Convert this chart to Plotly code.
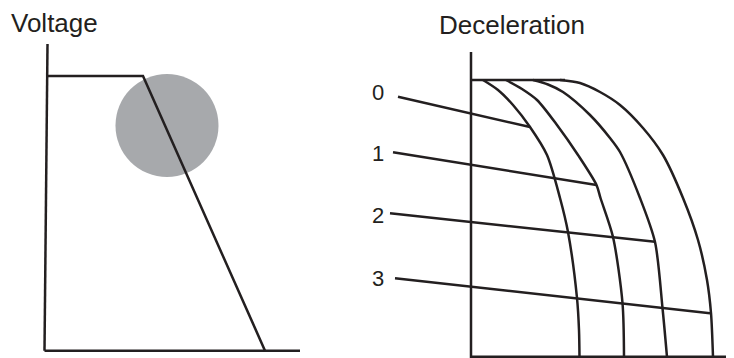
import plotly.graph_objects as go

# Voltage panel (left)
volt_axis_x = [47.5, 44.5, 44.5, 300]
volt_axis_y = [44, 350.7, 350.7, 350.7]
volt_curve_x = [47.5, 143, 265]
volt_curve_y = [76, 76, 350.7]
spot_x = [167]
spot_y = [125.5]

# Deceleration panel (right)
dec_axis_x = [471, 471, 734]
dec_axis_y = [52, 356.7, 356.7]
top_x = [471, 565]
top_y = [80, 80]

curve_a_x = [483, 498, 513, 530, 547, 560, 568, 577, 579, 579.5]
curve_a_y = [80, 90, 105, 127, 155, 198, 232, 298, 330, 357]
curve_b_x = [506, 522, 537, 557, 578, 596.5, 600.5, 613, 622.5, 624]
curve_b_y = [80, 89, 100, 125, 155, 185, 198, 237, 303, 357]
curve_c_x = [533, 548, 563, 590, 610, 620, 640, 655, 662.5, 667]
curve_c_y = [80, 84.5, 92, 115, 138, 152, 198, 242, 308, 357]
curve_d_x = [560, 580, 600, 620, 643, 663, 683, 698, 707, 711, 713]
curve_d_y = [80, 83, 92, 105, 128, 155, 198, 240, 280, 313, 357]

labels = ["0", "1", "2", "3"]
label_x = [378, 378, 378, 378]
label_y = [94, 155, 217, 280]
pointer_x0 = [398, 393, 390, 395]
pointer_y0 = [96.7, 152.3, 213.3, 278.3]
pointer_x1 = [530, 596.5, 655, 710]
pointer_y1 = [127, 185, 241.7, 313.3]

ink = "#231f20"
lw = 2.5
font = "Liberation Sans, Arial"

fig = go.Figure()

# grey spot behind the voltage line
fig.add_trace(go.Scatter(x=spot_x, y=spot_y, mode="markers",
                         marker=dict(size=103, color="#a7a9ac", line=dict(width=0))))

fig.add_trace(go.Scatter(x=volt_axis_x[:2], y=volt_axis_y[:2], mode="lines", line=dict(color=ink, width=lw)))
fig.add_trace(go.Scatter(x=volt_axis_x[2:], y=volt_axis_y[2:], mode="lines", line=dict(color=ink, width=lw)))
fig.add_trace(go.Scatter(x=volt_curve_x, y=volt_curve_y, mode="lines", line=dict(color=ink, width=lw)))

fig.add_trace(go.Scatter(x=dec_axis_x, y=dec_axis_y, mode="lines", line=dict(color=ink, width=lw)))
fig.add_trace(go.Scatter(x=top_x, y=top_y, mode="lines", line=dict(color=ink, width=lw)))

for cx, cy in [(curve_a_x, curve_a_y), (curve_b_x, curve_b_y),
               (curve_c_x, curve_c_y), (curve_d_x, curve_d_y)]:
    fig.add_trace(go.Scatter(x=cx, y=cy, mode="lines",
                             line=dict(color=ink, width=lw, shape="spline", smoothing=0.8)))

for i in range(len(labels)):
    fig.add_trace(go.Scatter(x=[pointer_x0[i], pointer_x1[i]], y=[pointer_y0[i], pointer_y1[i]],
                             mode="lines", line=dict(color=ink, width=lw)))

fig.add_trace(go.Scatter(x=label_x, y=label_y, mode="text", text=labels,
                         textfont=dict(size=22, color=ink, family=font)))

fig.add_annotation(x=54, y=23, text="Voltage", showarrow=False, yanchor="middle",
                   font=dict(size=26, color=ink, family=font))
fig.add_annotation(x=512, y=25, text="Deceleration", showarrow=False, yanchor="middle",
                   font=dict(size=26, color=ink, family=font))

# page body has an 8px margin, so the plot starts 8px in
fig.update_xaxes(range=[8, 734], visible=False)
fig.update_yaxes(range=[358, 8], visible=False)
fig.update_layout(width=726, height=350, margin=dict(l=0, r=0, t=0, b=0),
                  showlegend=False, plot_bgcolor="white", paper_bgcolor="white")

fig.write_html("out.html")
